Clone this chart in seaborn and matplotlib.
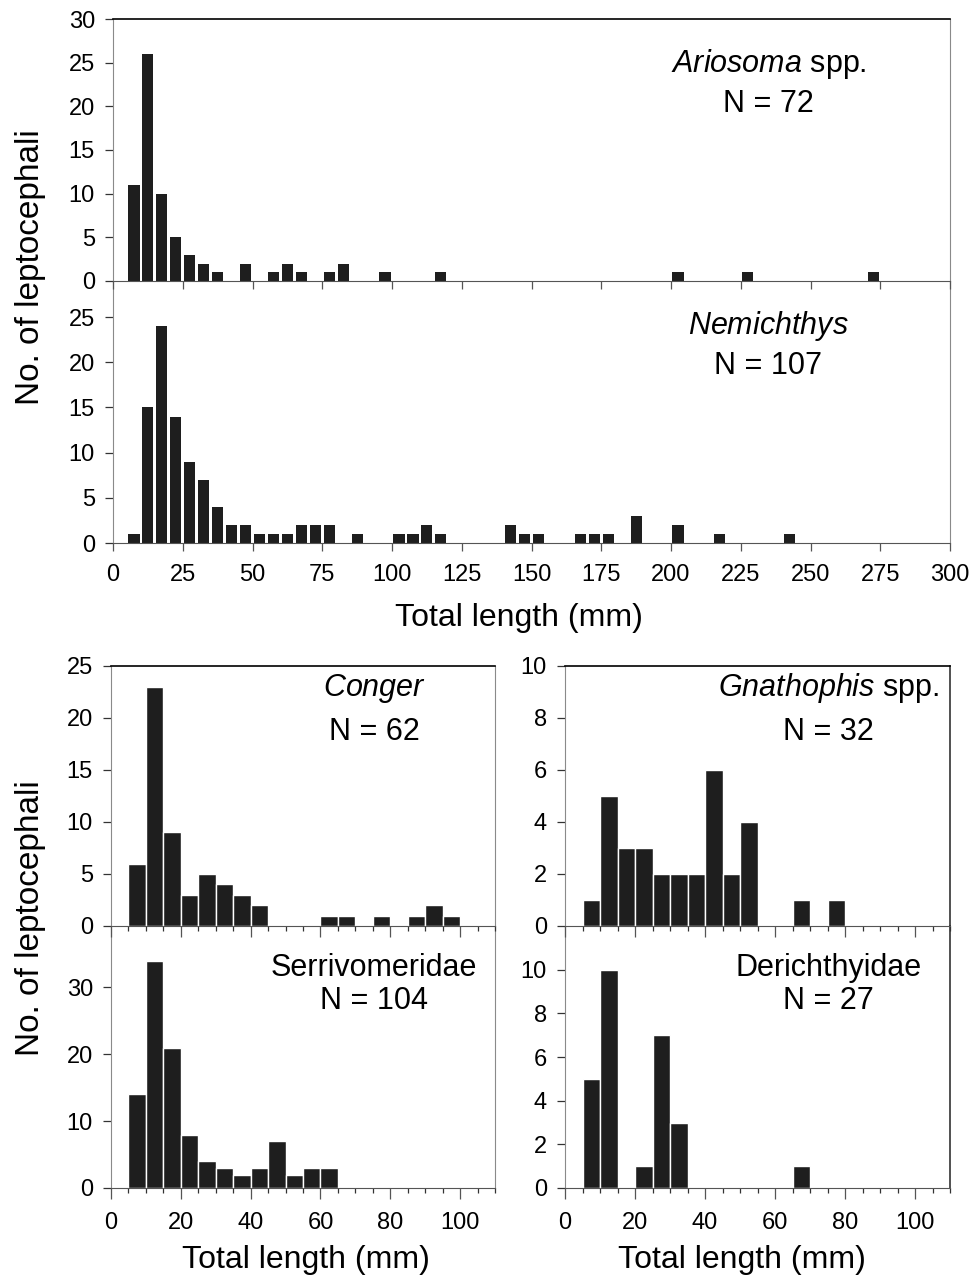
import numpy as np
import pandas as pd
import seaborn as sns
import matplotlib.pyplot as plt
from matplotlib.ticker import MultipleLocator

sns.set_style('ticks')
plt.rcParams['font.family'] = ['Liberation Sans', 'DejaVu Sans']
plt.rcParams['mathtext.fontset'] = 'custom'
plt.rcParams['mathtext.it'] = 'Liberation Sans:italic'
plt.rcParams['mathtext.rm'] = 'Liberation Sans'
plt.rcParams['text.color'] = 'black'
plt.rcParams['xtick.labelcolor'] = 'black'
plt.rcParams['ytick.labelcolor'] = 'black'

# Bin centres (mm, 5 mm bins) and counts
ariosoma_mm = [7.5, 12.5, 17.5, 22.5, 27.5, 32.5, 37.5, 47.5, 57.5, 62.5,
               67.5, 77.5, 82.5, 97.5, 117.5, 202.5, 227.5, 272.5]
ariosoma_n = [11, 26, 10, 5, 3, 2, 1, 2, 1, 2, 1, 1, 2, 1, 1, 1, 1, 1]

nemichthys_mm = [7.5, 12.5, 17.5, 22.5, 27.5, 32.5, 37.5, 42.5, 47.5, 52.5,
                 57.5, 62.5, 67.5, 72.5, 77.5, 87.5, 102.5, 107.5, 112.5, 117.5,
                 142.5, 147.5, 152.5, 167.5, 172.5, 177.5, 187.5, 202.5, 217.5, 242.5]
nemichthys_n = [1, 15, 24, 14, 9, 7, 4, 2, 2, 1, 1, 1, 2, 2, 2, 1, 1, 1, 2, 1,
                2, 1, 1, 1, 1, 1, 3, 2, 1, 1]

conger_mm = [7.5, 12.5, 17.5, 22.5, 27.5, 32.5, 37.5, 42.5, 62.5, 67.5,
             77.5, 87.5, 92.5, 97.5]
conger_n = [6, 23, 9, 3, 5, 4, 3, 2, 1, 1, 1, 1, 2, 1]

gnathophis_mm = [7.5, 12.5, 17.5, 22.5, 27.5, 32.5, 37.5, 42.5, 47.5, 52.5, 67.5, 77.5]
gnathophis_n = [1, 5, 3, 3, 2, 2, 2, 6, 2, 4, 1, 1]

serrivomer_mm = [7.5, 12.5, 17.5, 22.5, 27.5, 32.5, 37.5, 42.5, 47.5, 52.5, 57.5, 62.5]
serrivomer_n = [14, 34, 21, 8, 4, 3, 2, 3, 7, 2, 3, 3]

derichthys_mm = [7.5, 12.5, 22.5, 27.5, 32.5, 67.5]
derichthys_n = [5, 10, 1, 7, 3, 1]

BAR = '#1e1e1e'
W, H = 972, 1278


def box(x0, y0, x1, y1):
    return [x0 / W, 1 - y1 / H, (x1 - x0) / W, (y1 - y0) / H]


def panel(ax, mm, n, title, total, ymax, ystep, xmax, big):
    df = pd.DataFrame({'mm': mm, 'n': n})
    if big:
        sns.histplot(data=df, x='mm', weights='n', binwidth=5,
                     binrange=(5, max(mm) + 2.5), shrink=0.8, color=BAR,
                     alpha=1, linewidth=0, ax=ax)
    else:
        sns.histplot(data=df, x='mm', weights='n', binwidth=5,
                     binrange=(5, max(mm) + 2.5), shrink=1, color=BAR,
                     alpha=1, edgecolor='white', linewidth=1, ax=ax)
    ax.patch.set_alpha(0)
    ax.set_xlim(0, xmax)
    ax.set_ylim(0, ymax)
    ax.set_xlabel('')
    ax.set_ylabel('')
    ax.yaxis.set_major_locator(MultipleLocator(ystep))
    for s in ['left', 'right', 'bottom']:
        ax.spines[s].set_color('#8a8a8a')
        ax.spines[s].set_linewidth(0.8)
    ax.spines['bottom'].set_color('#555555')
    ax.spines['top'].set_color('black')
    ax.spines['top'].set_linewidth(1.2)
    ax.tick_params(axis='y', direction='out', length=6, width=0.9,
                   color='#333333', labelsize=17, pad=7)
    ax.tick_params(axis='x', which='major', direction='out', length=6,
                   width=0.9, color='#555555', labelsize=17, pad=9)
    ax.tick_params(axis='x', which='minor', direction='out', length=3.5,
                   width=0.9, color='#333333')
    ax.text(0.685 if not big else 0.783, 0.83 if big else 0.915, title,
            transform=ax.transAxes, ha='center', va='center', fontsize=22)
    ax.text(0.685 if not big else 0.783, 0.675 if big else 0.745, 'N = %d' % total,
            transform=ax.transAxes, ha='center', va='center', fontsize=22)


fig = plt.figure(figsize=(9.72, 12.78), dpi=100)

ax2 = fig.add_axes(box(113, 281, 950, 543))
ax1 = fig.add_axes(box(113, 19, 950, 281))
panel(ax1, ariosoma_mm, ariosoma_n, r'$\mathit{Ariosoma}$ spp.', 72, 30, 5, 300, True)
panel(ax2, nemichthys_mm, nemichthys_n, r'$\mathit{Nemichthys}$', 107, 29, 5, 300, True)
for ax in (ax1, ax2):
    ax.xaxis.set_major_locator(MultipleLocator(25))
ax1.tick_params(axis='x', labelbottom=False)
ax2.spines['top'].set_visible(False)
ax2.set_yticks([0, 5, 10, 15, 20, 25])

ax4 = fig.add_axes(box(111, 926, 495, 1188))
ax3 = fig.add_axes(box(111, 666, 495, 926))
ax6 = fig.add_axes(box(565, 926, 950, 1188))
ax5 = fig.add_axes(box(565, 666, 950, 926))
panel(ax3, conger_mm, conger_n, r'$\mathit{Conger}$', 62, 25, 5, 110, False)
panel(ax4, serrivomer_mm, serrivomer_n, 'Serrivomeridae', 104, 39.2, 10, 110, False)
panel(ax5, gnathophis_mm, gnathophis_n, r'$\mathit{Gnathophis}$ spp.', 32, 10, 2, 110, False)
panel(ax6, derichthys_mm, derichthys_n, 'Derichthyidae', 27, 12, 2, 110, False)
for ax in (ax3, ax4, ax5, ax6):
    ax.xaxis.set_major_locator(MultipleLocator(20))
    ax.xaxis.set_minor_locator(MultipleLocator(5))
    ax.tick_params(axis='x', which='major', length=8)
for ax in (ax3, ax5):
    ax.tick_params(axis='x', labelbottom=False)
for ax in (ax4, ax6):
    ax.spines['top'].set_visible(False)
ax4.set_yticks([0, 10, 20, 30])
ax6.set_yticks([0, 2, 4, 6, 8, 10])
for ax in (ax5, ax6):
    ax.spines['right'].set_color('#222222')
    ax.spines['right'].set_linewidth(1.1)
for ax in (ax4, ax6):
    ax.texts[0].set_y(0.84)
    ax.texts[1].set_y(0.715)

fig.text(31 / W, 1 - 267 / H, 'No. of leptocephali', rotation=90,
         ha='center', va='center', fontsize=24)
fig.text(31 / W, 1 - 918 / H, 'No. of leptocephali', rotation=90,
         ha='center', va='center', fontsize=24)
fig.text(519 / W, 1 - 618 / H, 'Total length (mm)', ha='center', va='center', fontsize=23)
fig.text(306 / W, 1 - 1260 / H, 'Total length (mm)', ha='center', va='center', fontsize=23)
fig.text(742 / W, 1 - 1260 / H, 'Total length (mm)', ha='center', va='center', fontsize=23)

fig.savefig('out.png', dpi=100, facecolor='white')
